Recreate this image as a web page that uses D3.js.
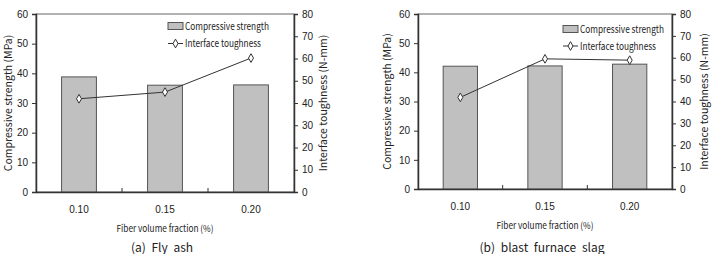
<!DOCTYPE html>
<html>
<head>
<meta charset="utf-8">
<script src="https://cdn.jsdelivr.net/npm/d3@7"></script>
<style>
  body { margin: 0; background: #fff; }
  svg { display: block; font-family: "Noto Sans CJK KR", "Noto Sans", sans-serif; }
</style>
</head>
<body>
<div id="chart"></div>
<script>
const categories = ["0.10", "0.15", "0.20"];
const flyAshStrength = [38.8, 36.0, 36.1];
const flyAshToughness = [41.9, 44.9, 60.2];
const slagStrength = [42.1, 42.2, 42.8];
const slagToughness = [41.9, 59.5, 58.9];
const strengthTicks = [0, 10, 20, 30, 40, 50, 60];
const toughnessTicks = [0, 10, 20, 30, 40, 50, 60, 70, 80];

const width = 712, height = 254;
const svg = d3.select("#chart").append("svg")
    .attr("width", width)
    .attr("height", height);

function drawPanel(p) {
    const g = svg.append("g");

    const x = d3.scaleBand()
        .domain(categories)
        .range([p.left, p.right])
        .padding(0);

    const yL = d3.scaleLinear().domain([0, 60]).range([p.bottom, p.top]);
    const yR = d3.scaleLinear().domain([0, 80]).range([p.bottom, p.top]);

    // plot frame
    g.append("rect")
        .attr("x", p.left).attr("y", p.top)
        .attr("width", p.right - p.left).attr("height", p.bottom - p.top)
        .attr("fill", "none").attr("stroke", "#666").attr("stroke-width", 1);

    // bars
    const bw = x.bandwidth() * 0.405;
    g.selectAll("rect.bar")
        .data(p.strength)
        .enter().append("rect")
        .attr("class", "bar")
        .attr("x", (d, i) => x(categories[i]) + (x.bandwidth() - bw) / 2)
        .attr("y", d => yL(d))
        .attr("width", bw)
        .attr("height", d => p.bottom - yL(d))
        .attr("fill", "#c0c0c0")
        .attr("stroke", "#555")
        .attr("stroke-width", 1);

    // left axis
    const axL = g.append("g")
        .attr("transform", `translate(${p.left},0)`)
        .call(d3.axisLeft(yL).tickValues(strengthTicks).tickSize(4).tickPadding(4));
    // right axis
    const axR = g.append("g")
        .attr("transform", `translate(${p.right},0)`)
        .call(d3.axisRight(yR).tickValues(toughnessTicks).tickSize(4).tickPadding(4));
    // bottom axis: ticks at category boundaries pointing inward
    const axB = g.append("g")
        .attr("transform", `translate(0,${p.bottom})`)
        .call(d3.axisBottom(x).tickSize(0).tickPadding(14));
    [axL, axR, axB].forEach(a => {
        a.select(".domain").attr("stroke", "#333").attr("stroke-width", 1.5);
        a.selectAll(".tick line").attr("stroke", "#333");
        a.selectAll("text").attr("font-size", 10).attr("fill", "#222")
            .attr("font-family", "inherit");
    });
    g.selectAll("line.sep")
        .data(categories.slice(1))
        .enter().append("line")
        .attr("class", "sep")
        .attr("x1", d => x(d)).attr("x2", d => x(d))
        .attr("y1", p.bottom).attr("y2", p.bottom - 4)
        .attr("stroke", "#333");

    // toughness line
    const line = d3.line()
        .x((d, i) => x(categories[i]) + x.bandwidth() / 2)
        .y(d => yR(d));
    g.append("path")
        .datum(p.toughness)
        .attr("d", line)
        .attr("fill", "none")
        .attr("stroke", "#333")
        .attr("stroke-width", 1);
    const diamond = d3.symbol().type(d3.symbolDiamond).size(22);
    g.selectAll("path.pt")
        .data(p.toughness)
        .enter().append("path")
        .attr("class", "pt")
        .attr("d", diamond)
        .attr("transform", (d, i) => `translate(${x(categories[i]) + x.bandwidth() / 2},${yR(d)})`)
        .attr("fill", "#fff")
        .attr("stroke", "#333")
        .attr("stroke-width", 1);

    // legend
    const lg = g.append("g").attr("transform", `translate(${p.legendX},${p.legendY})`);
    lg.append("rect")
        .attr("x", 0).attr("y", -3.5).attr("width", 15).attr("height", 7)
        .attr("fill", "#c0c0c0").attr("stroke", "#555");
    lg.append("text").attr("x", 17).attr("y", 0).attr("dy", "0.35em")
        .attr("font-size", 10).attr("fill", "#222")
        .attr("textLength", 84).attr("lengthAdjust", "spacingAndGlyphs")
        .text("Compressive strength");
    lg.append("line")
        .attr("x1", 0).attr("x2", 15).attr("y1", p.legendGap).attr("y2", p.legendGap)
        .attr("stroke", "#333");
    lg.append("path").attr("d", diamond)
        .attr("transform", `translate(7.5,${p.legendGap})`)
        .attr("fill", "#fff").attr("stroke", "#333");
    lg.append("text").attr("x", 17).attr("y", p.legendGap).attr("dy", "0.35em")
        .attr("font-size", 10).attr("fill", "#222")
        .attr("textLength", 76).attr("lengthAdjust", "spacingAndGlyphs")
        .text("Interface toughness");

    // axis titles
    const midY = (p.top + p.bottom) / 2;
    g.append("text")
        .attr("transform", `translate(${p.left - p.leftTitleOff},${midY}) rotate(-90)`)
        .attr("text-anchor", "middle").attr("font-size", 10.5).attr("fill", "#222")
        .text("Compressive strength (MPa)");
    g.append("text")
        .attr("transform", `translate(${p.right + p.rightTitleOff},${midY}) rotate(-90)`)
        .attr("text-anchor", "middle").attr("font-size", 10.5).attr("fill", "#222")
        .text("Interface toughness (N-mm)");
    g.append("text")
        .attr("x", (p.left + p.right) / 2).attr("y", p.bottom + 40)
        .attr("text-anchor", "middle").attr("font-size", 9.5).attr("fill", "#222")
        .attr("textLength", 97).attr("lengthAdjust", "spacingAndGlyphs")
        .text("Fiber volume fraction (%)");
    g.append("text")
        .attr("x", p.captionX).attr("y", 252)
        .attr("text-anchor", "middle").attr("font-size", 12).attr("fill", "#222")
        .attr("word-spacing", 3)
        .text(p.caption);
}

drawPanel({
    left: 36, right: 294, top: 14, bottom: 192,
    strength: flyAshStrength, toughness: flyAshToughness,
    legendX: 168, legendY: 26, legendGap: 17.5,
    leftTitleOff: 24, rightTitleOff: 33,
    captionX: 162, caption: "(a) Fly ash"
});

drawPanel({
    left: 418, right: 672, top: 14, bottom: 189,
    strength: slagStrength, toughness: slagToughness,
    legendX: 563, legendY: 29, legendGap: 17,
    leftTitleOff: 27, rightTitleOff: 36,
    captionX: 542, caption: "(b) blast furnace slag"
});
</script>
</body>
</html>
